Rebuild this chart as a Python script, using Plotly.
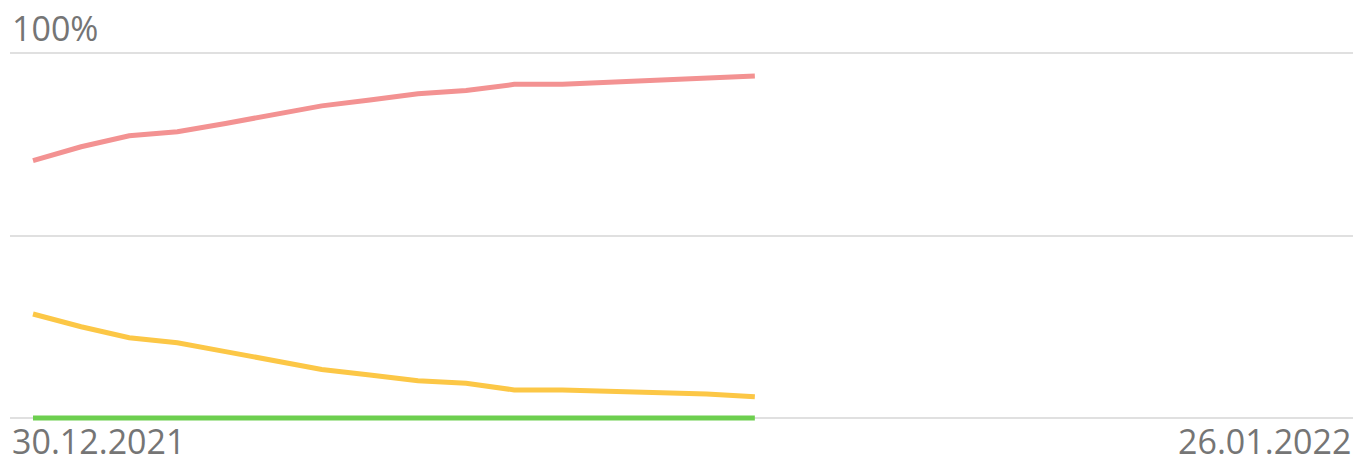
import plotly.graph_objects as go
from datetime import date, timedelta, datetime

start = date(2021, 12, 30)
end = date(2022, 1, 26)
n_points = 16
dates = [start + timedelta(days=i) for i in range(n_points)]

red_vals = [70.5, 74.3, 77.3, 78.4, 80.7, 83.1, 85.5, 87.1, 88.8, 89.7, 91.4, 91.4, 91.9, 92.6, 92.9, 93.7]
yellow_vals = [28.5, 25.0, 22.0, 20.6, 18.2, 15.8, 13.3, 11.8, 10.2, 9.5, 7.7, 7.7, 7.4, 6.8, 6.6, 5.8]
green_vals = [0.0] * n_points

y_ticks = [0, 50, 100]
top_label = "100%"
start_label = "30.12.2021"
end_label = "26.01.2022"

RED = "#F39292"
YELLOW = "#FCC746"
GREEN = "#6DCF4F"
TEXT = "#757575"
GRID = "#E0E0E0"

fig = go.Figure()
for vals, col in [(green_vals, GREEN), (yellow_vals, YELLOW), (red_vals, RED)]:
    fig.add_trace(go.Scatter(x=dates, y=vals, mode="lines",
                             line=dict(color=col, width=5), hoverinfo="skip",
                             showlegend=False))

t0 = datetime(2021, 12, 30) - timedelta(days=0.478)
t1 = datetime(2022, 1, 26) + timedelta(days=0.43)

fig.update_layout(
    width=1353, height=457,
    margin=dict(l=10, r=0, t=42, b=28),
    paper_bgcolor="white", plot_bgcolor="white",
    font=dict(family="Open Sans", color=TEXT, size=34),
    xaxis=dict(range=[t0, t1], showgrid=False, showticklabels=False,
               zeroline=False, showline=False, ticks=""),
    yaxis=dict(range=[-3, 103], tickvals=y_ticks, showticklabels=False,
               showgrid=True, gridcolor=GRID, gridwidth=2,
               zeroline=False, showline=False, ticks=""),
    annotations=[
        dict(text=top_label, xref="paper", yref="y", x=0, y=100,
             xanchor="left", yanchor="bottom", showarrow=False, yshift=0,
             font=dict(size=34, color=TEXT, family="Open Sans")),
        dict(text=start_label, xref="paper", yref="paper", x=0, y=0,
             xanchor="left", yanchor="top", showarrow=False, yshift=13,
             font=dict(size=34, color=TEXT, family="Open Sans")),
        dict(text=end_label, xref="paper", yref="paper", x=1, y=0,
             xanchor="right", yanchor="top", showarrow=False, yshift=13,
             font=dict(size=34, color=TEXT, family="Open Sans")),
    ],
)

fig.write_html("out.html", config={"displayModeBar": False},
               post_script="document.body.style.margin='0';document.body.style.overflow='hidden';")
